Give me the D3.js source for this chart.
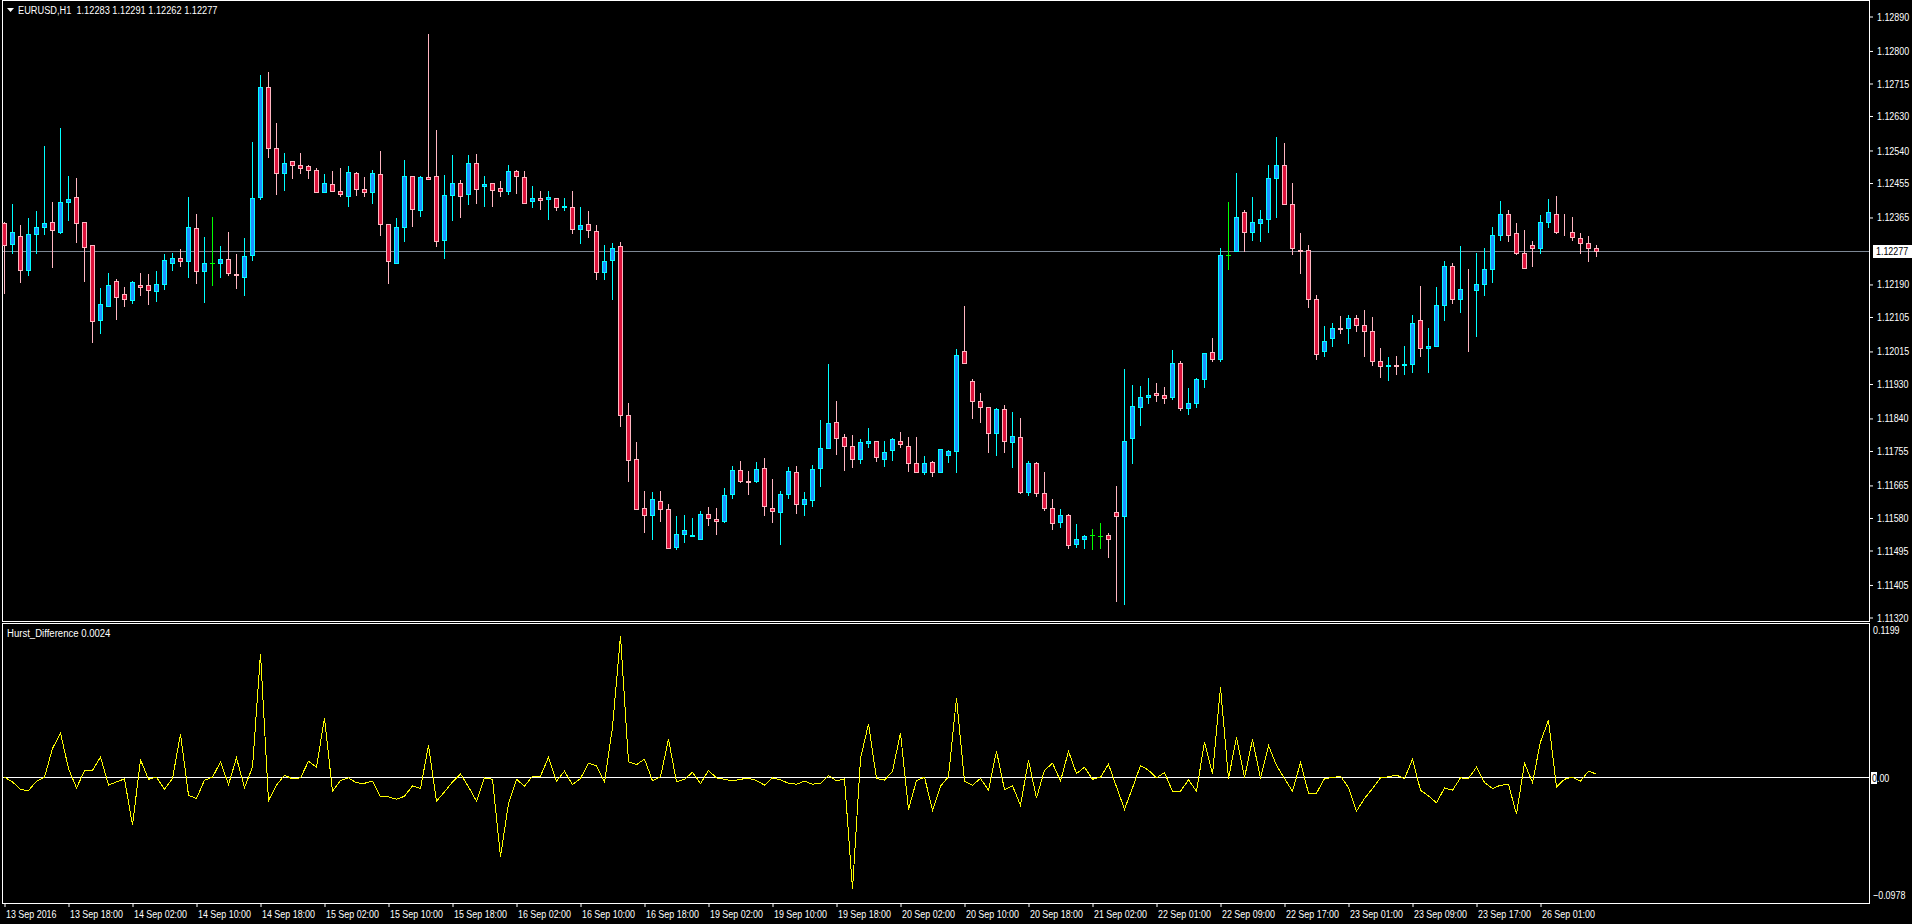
<!DOCTYPE html>
<html>
<head>
<meta charset="utf-8">
<script src="https://cdn.jsdelivr.net/npm/d3@7"></script>
<style>
html, body { margin: 0; padding: 0; background: #000; overflow: hidden; }
svg { display: block; }
text { font-family: "Liberation Sans", Arial, sans-serif; font-size: 11px; fill: #fff; }
</style>
</head>
<body>
<svg id="chart"></svg>
<script>
// EURUSD H1 candles (bar 0 = leftmost)
const opens = [
1.12348,1.12295,1.12314,1.12227,1.12320,1.12338,1.12351,1.12326,1.12403,1.12416,
1.12351,1.12291,1.12095,1.12133,1.12197,1.12163,1.12149,1.12186,1.12186,1.12171,
1.12189,1.12246,1.12257,1.12249,1.12335,1.12225,1.12244,1.12244,1.12254,1.12216,
1.12207,1.12265,1.12416,1.12704,1.12544,1.12479,1.12510,1.12500,1.12497,1.12489,
1.12429,1.12450,1.12432,1.12421,1.12479,1.12437,1.12429,1.12476,1.12346,1.12246,
1.12340,1.12473,1.12384,1.12470,1.12472,1.12306,1.12423,1.12455,1.12426,1.12506,
1.12445,1.12453,1.12440,1.12434,1.12485,1.12470,1.12406,1.12414,1.12413,1.12414,
1.12390,1.12391,1.12333,1.12347,1.12328,1.12222,1.12252,1.12288,1.11847,1.11732,
1.11606,1.11586,1.11623,1.11602,1.11502,1.11536,1.11531,1.11525,1.11588,1.11576,
1.11570,1.11641,1.11703,1.11676,1.11675,1.11709,1.11606,1.11594,1.11641,1.11699,
1.11615,1.11625,1.11708,1.11761,1.11829,1.11789,1.11768,1.11734,1.11774,1.11781,
1.11734,1.11755,1.11781,1.11768,1.11721,1.11700,1.11724,1.11700,1.11742,1.11753,
1.12014,1.11936,1.11883,1.11868,1.11800,1.11863,1.11776,1.11789,1.11646,1.11721,
1.11643,1.11606,1.11567,1.11586,1.11510,1.11523,1.11533,1.11531,1.11533,1.11593,
1.11583,1.11787,1.11868,1.11894,1.11904,1.11899,1.11894,1.11983,1.11865,1.11878,
1.11941,1.12011,1.11995,1.12265,1.12275,1.12377,1.12325,1.12348,1.12359,1.12468,
1.12500,1.12400,1.12280,1.12278,1.12152,1.12016,1.12048,1.12076,1.12076,1.12100,
1.12082,1.12066,1.11990,1.11976,1.11977,1.11977,1.11980,1.12095,1.12022,1.12029,
1.12134,1.12236,1.12152,1.12178,1.12173,1.12189,1.12228,1.12317,1.12372,1.12322,
1.12270,1.12293,1.12283,1.12351,1.12374,1.12327,1.12325,1.12309,1.12296,1.12283];

const highs = [
1.12351,1.12399,1.12344,1.12362,1.12380,1.12550,1.12404,1.12597,1.12472,1.12467,
1.12351,1.12291,1.12179,1.12218,1.12204,1.12181,1.12197,1.12218,1.12216,1.12224,
1.12268,1.12271,1.12281,1.12417,1.12373,1.12313,1.12365,1.12289,1.12326,1.12268,
1.12310,1.12561,1.12736,1.12744,1.12610,1.12532,1.12510,1.12532,1.12500,1.12492,
1.12477,1.12485,1.12494,1.12497,1.12482,1.12469,1.12487,1.12537,1.12346,1.12362,
1.12514,1.12473,1.12472,1.12843,1.12592,1.12474,1.12527,1.12462,1.12527,1.12529,
1.12472,1.12453,1.12459,1.12500,1.12488,1.12485,1.12446,1.12433,1.12433,1.12414,
1.12415,1.12433,1.12392,1.12381,1.12344,1.12292,1.12297,1.12300,1.11879,1.11777,
1.11650,1.11647,1.11650,1.11615,1.11584,1.11587,1.11578,1.11597,1.11607,1.11605,
1.11658,1.11714,1.11728,1.11702,1.11725,1.11736,1.11681,1.11650,1.11712,1.11714,
1.11647,1.11716,1.11835,1.11981,1.11884,1.11798,1.11795,1.11784,1.11813,1.11781,
1.11779,1.11787,1.11803,1.11790,1.11790,1.11741,1.11727,1.11758,1.11756,1.12020,
1.12133,1.11942,1.11905,1.11868,1.11865,1.11873,1.11855,1.11840,1.11727,1.11724,
1.11700,1.11627,1.11601,1.11588,1.11562,1.11533,1.11549,1.11565,1.11539,1.11661,
1.11967,1.11925,1.11923,1.11944,1.11930,1.11920,1.12017,1.11988,1.11917,1.11944,
1.12009,1.12048,1.12285,1.12404,1.12480,1.12382,1.12416,1.12382,1.12500,1.12573,
1.12557,1.12453,1.12322,1.12291,1.12160,1.12079,1.12089,1.12105,1.12108,1.12108,
1.12121,1.12103,1.12024,1.11998,1.12001,1.12029,1.12108,1.12184,1.12076,1.12181,
1.12249,1.12244,1.12288,1.12228,1.12272,1.12283,1.12338,1.12406,1.12382,1.12348,
1.12330,1.12301,1.12369,1.12411,1.12421,1.12374,1.12364,1.12322,1.12314,1.12291];

const lows = [
1.12167,1.12272,1.12196,1.12214,1.12272,1.12321,1.12235,1.12324,1.12358,1.12300,
1.12198,1.12039,1.12062,1.12133,1.12099,1.12133,1.12141,1.12162,1.12138,1.12146,
1.12178,1.12227,1.12238,1.12209,1.12193,1.12144,1.12188,1.12209,1.12214,1.12180,
1.12162,1.12252,1.12411,1.12522,1.12426,1.12436,1.12468,1.12481,1.12468,1.12429,
1.12429,1.12432,1.12419,1.12394,1.12423,1.12421,1.12402,1.12319,1.12193,1.12246,
1.12303,1.12342,1.12368,1.12463,1.12290,1.12257,1.12356,1.12364,1.12400,1.12402,
1.12393,1.12394,1.12420,1.12426,1.12428,1.12402,1.12390,1.12387,1.12361,1.12384,
1.12384,1.12324,1.12298,1.12312,1.12202,1.12204,1.12151,1.11818,1.11676,1.11602,
1.11543,1.11523,1.11572,1.11499,1.11497,1.11515,1.11531,1.11525,1.11560,1.11536,
1.11568,1.11632,1.11672,1.11642,1.11672,1.11586,1.11568,1.11510,1.11630,1.11591,
1.11586,1.11611,1.11663,1.11761,1.11747,1.11705,1.11713,1.11721,1.11765,1.11728,
1.11715,1.11731,1.11765,1.11702,1.11698,1.11694,1.11689,1.11700,1.11724,1.11700,
1.11983,1.11841,1.11830,1.11752,1.11744,1.11752,1.11711,1.11643,1.11638,1.11635,
1.11599,1.11549,1.11554,1.11499,1.11502,1.11499,1.11497,1.11499,1.11476,1.11363,
1.11353,1.11721,1.11821,1.11878,1.11883,1.11878,1.11889,1.11860,1.11849,1.11868,
1.11922,1.11988,1.11988,1.12230,1.12275,1.12275,1.12306,1.12301,1.12325,1.12366,
1.12398,1.12267,1.12218,1.12129,1.11993,1.12003,1.12029,1.12061,1.12037,1.12066,
1.12001,1.11977,1.11946,1.11939,1.11956,1.11954,1.11959,1.12003,1.11959,1.12029,
1.12095,1.12139,1.12118,1.12014,1.12053,1.12160,1.12194,1.12306,1.12301,1.12267,
1.12233,1.12236,1.12272,1.12338,1.12322,1.12317,1.12306,1.12270,1.12249,1.12262];

const closes = [
1.12293,1.12325,1.12227,1.12320,1.12340,1.12348,1.12330,1.12403,1.12411,1.12350,
1.12287,1.12092,1.12137,1.12186,1.12157,1.12151,1.12194,1.12183,1.12173,1.12189,
1.12252,1.12257,1.12249,1.12338,1.12225,1.12244,1.12244,1.12254,1.12218,1.12214,
1.12262,1.12414,1.12704,1.12544,1.12479,1.12505,1.12500,1.12492,1.12489,1.12429,
1.12453,1.12434,1.12424,1.12482,1.12437,1.12429,1.12479,1.12346,1.12249,1.12338,
1.12471,1.12387,1.12470,1.12465,1.12301,1.12422,1.12455,1.12420,1.12506,1.12437,
1.12451,1.12435,1.12432,1.12485,1.12473,1.12402,1.12414,1.12410,1.12418,1.12390,
1.12393,1.12333,1.12344,1.12330,1.12221,1.12249,1.12285,1.11847,1.11729,1.11602,
1.11586,1.11628,1.11602,1.11499,1.11536,1.11547,1.11533,1.11588,1.11578,1.11570,
1.11639,1.11703,1.11675,1.11673,1.11706,1.11609,1.11596,1.11641,1.11701,1.11615,
1.11628,1.11706,1.11761,1.11826,1.11787,1.11768,1.11734,1.11776,1.11779,1.11737,
1.11750,1.11784,1.11771,1.11721,1.11700,1.11721,1.11700,1.11758,1.11753,1.12004,
1.11983,1.11883,1.11868,1.11800,1.11863,1.11781,1.11792,1.11646,1.11721,1.11643,
1.11606,1.11565,1.11586,1.11507,1.11523,1.11531,1.11533,1.11531,1.11525,1.11583,
1.11781,1.11870,1.11894,1.11899,1.11899,1.11891,1.11983,1.11865,1.11878,1.11941,
1.12009,1.11995,1.12265,1.12265,1.12366,1.12327,1.12351,1.12361,1.12468,1.12502,
1.12398,1.12285,1.12275,1.12152,1.12008,1.12042,1.12076,1.12073,1.12100,1.12082,
1.12066,1.11990,1.11975,1.11977,1.11975,1.11982,1.12089,1.12022,1.12029,1.12134,
1.12236,1.12152,1.12176,1.12176,1.12189,1.12228,1.12317,1.12372,1.12317,1.12270,
1.12233,1.12285,1.12351,1.12377,1.12327,1.12325,1.12312,1.12296,1.12285,1.12277];

// Hurst_Difference indicator, one value per bar
const hurst = [
0.0000,-0.0036,-0.0096,-0.0104,-0.0031,0.0000,0.0223,0.0344,0.0067,-0.0083,
0.0049,0.0054,0.0158,-0.0062,-0.0036,-0.0013,-0.0373,0.0135,-0.0016,0.0000,
-0.0093,-0.0010,0.0337,-0.0140,-0.0166,-0.0023,0.0000,0.0119,-0.0057,0.0150,
-0.0080,0.0078,0.0961,-0.0181,-0.0062,0.0016,-0.0013,-0.0005,0.0124,0.0078,
0.0461,-0.0109,-0.0026,-0.0005,-0.0044,-0.0047,-0.0031,-0.0153,-0.0153,-0.0171,
-0.0148,-0.0067,-0.0088,0.0249,-0.0186,-0.0114,-0.0036,0.0026,-0.0075,-0.0186,
-0.0005,-0.0016,-0.0619,-0.0205,-0.0016,-0.0070,0.0008,0.0008,0.0155,-0.0031,
0.0047,-0.0057,-0.0010,0.0109,0.0088,-0.0039,0.0389,0.1098,0.0119,0.0098,
0.0140,-0.0028,0.0003,0.0295,-0.0036,-0.0016,0.0039,-0.0049,0.0052,-0.0005,
-0.0016,-0.0028,-0.0016,-0.0008,-0.0026,-0.0062,-0.0005,-0.0021,-0.0047,-0.0054,
-0.0031,-0.0054,-0.0047,0.0013,-0.0028,-0.0013,-0.0870,0.0145,0.0414,-0.0010,
-0.0023,0.0047,0.0344,-0.0251,-0.0026,0.0000,-0.0256,-0.0070,0.0005,0.0616,
-0.0031,-0.0062,-0.0010,-0.0101,0.0202,-0.0096,-0.0067,-0.0218,0.0132,-0.0163,
0.0054,0.0109,-0.0031,0.0202,0.0028,0.0078,-0.0016,0.0000,0.0101,-0.0075,
-0.0249,-0.0083,0.0091,0.0054,-0.0005,0.0036,-0.0109,-0.0109,-0.0021,-0.0109,
0.0275,0.0023,0.0699,-0.0010,0.0311,-0.0005,0.0295,-0.0010,0.0246,0.0093,
-0.0010,-0.0109,0.0114,-0.0124,-0.0124,-0.0010,-0.0003,0.0008,-0.0080,-0.0264,
-0.0166,-0.0088,-0.0005,0.0003,0.0016,-0.0010,0.0140,-0.0101,-0.0145,-0.0199,
-0.0083,-0.0101,-0.0005,-0.0010,0.0078,-0.0041,-0.0088,-0.0062,-0.0057,-0.0287,
0.0109,-0.0041,0.0275,0.0443,-0.0075,-0.0016,0.0000,-0.0031,0.0047,0.0024];

// one label every 8 bars
const timeLabels = ["13 Sep 2016","13 Sep 18:00","14 Sep 02:00","14 Sep 10:00","14 Sep 18:00",
  "15 Sep 02:00","15 Sep 10:00","15 Sep 18:00","16 Sep 02:00","16 Sep 10:00","16 Sep 18:00",
  "19 Sep 02:00","19 Sep 10:00","19 Sep 18:00","20 Sep 02:00","20 Sep 10:00","20 Sep 18:00",
  "21 Sep 02:00","22 Sep 01:00","22 Sep 09:00","22 Sep 17:00","23 Sep 01:00","23 Sep 09:00",
  "23 Sep 17:00","26 Sep 01:00"];

const priceTicks = [1.12890,1.12800,1.12715,1.12630,1.12540,1.12455,1.12365,1.12190,1.12105,
  1.12015,1.11930,1.11840,1.11755,1.11665,1.11580,1.11495,1.11405,1.11320];
const hurstTicks = [0.1199, -0.0978];

const symbol = 'EURUSD,H1';
const lastPrice = 1.12277;
const lastHurst = 0.0024;

const width = 1912;
const height = 924;
const right = 1869;     // right edge of plot panels
const mainBottom = 621;
const indTop = 623;
const indBottom = 903;

let svg = d3.select('#chart');
let n = opens.length;

let xScale, yPrice, yInd;

// MT4 uses a narrow Tahoma; squeeze the installed sans horizontally
let narrow = (sel, k) => sel.each(function () {
    let t = d3.select(this);
    let x0 = +t.attr('x') || 0;
    t.attr('x', 0).attr('transform', 'translate(' + x0 + ',0) scale(' + k + ',1)');
});

let drawCanvas = () => {
    svg.attr('width', width).attr('height', height);
    svg.append('rect').attr('width', width).attr('height', height).attr('fill', '#000');
};

let generateScales = () => {
    xScale = d3.scaleLinear()
                .domain([0, n - 1])
                .range([4, 4 + 8 * (n - 1)]);

    yPrice = d3.scaleLinear()
                .domain([1.11320, 1.12890])
                .range([617, 16]);

    yInd = d3.scaleLinear()
                .domain([-0.0978, 0.1199])
                .range([indBottom, indTop]);
};

let drawFrames = () => {
    svg.append('rect')
        .attr('x', 2.5).attr('y', 0.5)
        .attr('width', right - 2).attr('height', mainBottom)
        .attr('fill', 'none').attr('stroke', '#fff');

    svg.append('rect')
        .attr('x', 2.5).attr('y', indTop + 0.5)
        .attr('width', right - 2).attr('height', indBottom - indTop)
        .attr('fill', 'none').attr('stroke', '#fff');

    // last price line
    svg.append('line')
        .attr('x1', 3).attr('x2', right)
        .attr('y1', Math.round(yPrice(lastPrice)) + 0.5)
        .attr('y2', Math.round(yPrice(lastPrice)) + 0.5)
        .attr('stroke', '#7d8794');

    // indicator zero level
    svg.append('line')
        .attr('x1', 3).attr('x2', right)
        .attr('y1', Math.round(yInd(0)) + 0.5)
        .attr('y2', Math.round(yInd(0)) + 0.5)
        .attr('stroke', '#fff');
};

let drawCandles = () => {
    let g = svg.append('g').attr('shape-rendering', 'crispEdges');
    let up = i => closes[i] > opens[i];
    let flat = i => closes[i] === opens[i];
    let edge = i => flat(i) ? '#00ff00' : (up(i) ? '#00ffff' : '#ffb6c1');
    let cx = i => Math.round(xScale(i));

    g.selectAll('line.wick')
        .data(d3.range(n))
        .enter()
        .append('line')
        .attr('class', 'wick')
        .attr('x1', i => cx(i) + 0.5)
        .attr('x2', i => cx(i) + 0.5)
        .attr('y1', i => Math.round(yPrice(highs[i])))
        .attr('y2', i => Math.round(yPrice(lows[i])) + 1)
        .attr('stroke', edge);

    g.selectAll('rect.body')
        .data(d3.range(n).filter(i => !flat(i)))
        .enter()
        .append('rect')
        .attr('class', 'body')
        .attr('x', i => cx(i) - 1.5)
        .attr('width', 4)
        .attr('y', i => Math.round(yPrice(Math.max(opens[i], closes[i]))) + 0.5)
        .attr('height', i => Math.round(yPrice(Math.min(opens[i], closes[i]))) - Math.round(yPrice(Math.max(opens[i], closes[i]))))
        .attr('fill', i => up(i) ? '#1e90ff' : '#dc143c')
        .attr('stroke', edge);

    g.selectAll('line.doji')
        .data(d3.range(n).filter(flat))
        .enter()
        .append('line')
        .attr('class', 'doji')
        .attr('x1', i => cx(i) - 2)
        .attr('x2', i => cx(i) + 3)
        .attr('y1', i => Math.round(yPrice(opens[i])) + 0.5)
        .attr('y2', i => Math.round(yPrice(opens[i])) + 0.5)
        .attr('stroke', '#00ff00');
};

let drawIndicator = () => {
    let line = d3.line()
        .x((d, i) => Math.round(xScale(i)) + 0.5)
        .y(d => yInd(d));

    svg.append('path')
        .datum(hurst)
        .attr('d', line)
        .attr('fill', 'none')
        .attr('stroke', '#ffff00')
        .attr('stroke-width', 1)
        .attr('shape-rendering', 'crispEdges');
};

let generateAxes = () => {
    let xAxis = d3.axisBottom(xScale)
                .tickValues(d3.range(0, n, 8))
                .tickFormat((d, i) => timeLabels[i])
                .tickSize(3);

    let gx = svg.append('g')
        .attr('id', 'x-axis')
        .attr('transform', 'translate(0.5, ' + (indBottom + 1) + ')')
        .call(xAxis);
    gx.select('.domain').remove();
    gx.selectAll('line').attr('stroke', '#fff');
    gx.selectAll('text').attr('text-anchor', 'start').attr('x', 1).attr('fill', '#fff');
    narrow(gx.selectAll('text'), 0.81);

    let yAxis = d3.axisRight(yPrice)
                .tickValues(priceTicks)
                .tickFormat(d3.format('.5f'))
                .tickSize(3)
                .tickPadding(4);

    let gy = svg.append('g')
        .attr('id', 'y-axis')
        .attr('transform', 'translate(' + (right + 1) + ', 0.5)')
        .call(yAxis);
    gy.select('.domain').remove();
    gy.selectAll('line').attr('stroke', '#fff');
    gy.selectAll('text').attr('fill', '#fff');
    narrow(gy.selectAll('text'), 0.81);

    // current price tag
    let py = Math.round(yPrice(lastPrice));
    svg.append('rect')
        .attr('x', right + 4).attr('y', py - 6)
        .attr('width', width - right - 4).attr('height', 13)
        .attr('fill', '#fff');
    let pt = svg.append('text')
        .attr('x', right + 7).attr('y', py + 4)
        .style('fill', '#000')
        .text(d3.format('.5f')(lastPrice));
    narrow(pt, 0.81);

    // indicator scale labels
    let it = svg.selectAll('text.ind')
        .data(hurstTicks)
        .enter()
        .append('text')
        .attr('class', 'ind')
        .attr('x', right + 4)
        .attr('y', d => d > 0 ? yInd(d) + 11 : yInd(d) - 4)
        .text(d => d3.format('.4f')(d));
    narrow(it, 0.81);

    let zy = Math.round(yInd(0));
    svg.append('rect')
        .attr('x', right + 2).attr('y', zy - 5)
        .attr('width', 6).attr('height', 12)
        .attr('fill', '#fff');
    let zt = svg.append('text')
        .attr('x', right + 3).attr('y', zy + 5);
    zt.append('tspan').style('fill', '#000').text('0');
    zt.append('tspan').text('.00');
    narrow(zt, 0.81);
};

let drawHeaders = () => {
    svg.append('rect')
        .attr('x', 3).attr('y', 1).attr('width', 215).attr('height', 15)
        .attr('fill', '#000');
    svg.append('path')
        .attr('d', 'M7,8 L14,8 L10.5,12 Z')
        .attr('fill', '#fff');
    let ht = svg.append('text')
        .attr('x', 18).attr('y', 14)
        .style('white-space', 'pre')
        .text(symbol + '  ' + [opens[n - 1], highs[n - 1], lows[n - 1], closes[n - 1]].map(d3.format('.5f')).join(' '));
    narrow(ht, 0.84);

    let lt = svg.append('text')
        .attr('x', 7).attr('y', indTop + 14)
        .text('Hurst_Difference ' + d3.format('.4f')(lastHurst));
    narrow(lt, 0.87);
};

drawCanvas();
generateScales();
drawFrames();
drawCandles();
drawIndicator();
generateAxes();
drawHeaders();
</script>
</body>
</html>
